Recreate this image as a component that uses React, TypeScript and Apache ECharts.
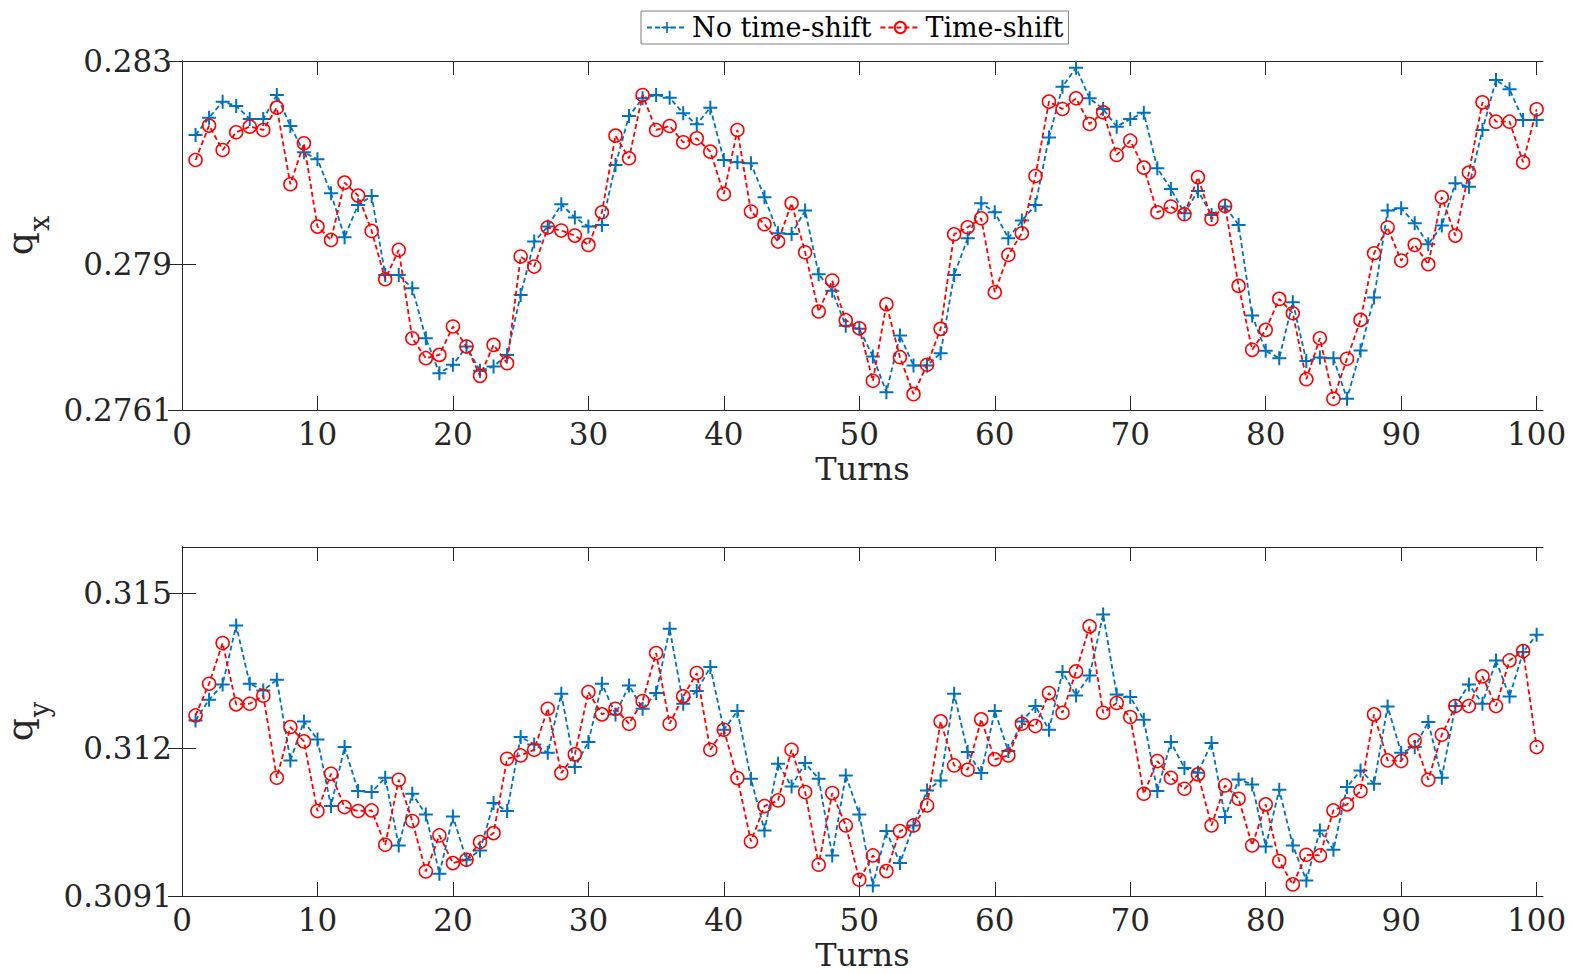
import React, { useEffect, useRef } from "react";
import * as echarts from "echarts";

const turns: number[] = Array.from({ length: 100 }, (_, i) => i + 1);

const qxNoShift: number[] = [
  0.281544, 0.281885, 0.2822, 0.282115, 0.281859, 0.281859, 0.282331, 0.281721, 0.281203, 0.281065,
  0.280396, 0.279531, 0.280167, 0.280344, 0.278789, 0.278789, 0.278527, 0.277543, 0.276855, 0.277019,
  0.277379, 0.276901, 0.276986, 0.277215, 0.278396, 0.279445, 0.27974, 0.28018, 0.279917, 0.27974,
  0.279773, 0.280954, 0.281918, 0.282265, 0.282331, 0.282279, 0.28197, 0.281754, 0.282082, 0.281052,
  0.281006, 0.280987, 0.280318, 0.279609, 0.279596, 0.280055, 0.278803, 0.278475, 0.277786, 0.277727,
  0.277183, 0.276481, 0.277596, 0.277006, 0.277006, 0.277248, 0.278789, 0.279511, 0.2802, 0.280022,
  0.279511, 0.279858, 0.280167, 0.281492, 0.282495, 0.282869, 0.282265, 0.282056, 0.281708, 0.281859,
  0.281983, 0.280888, 0.280482, 0.280003, 0.280442, 0.27997, 0.280134, 0.279773, 0.277989, 0.277294,
  0.27715, 0.278252, 0.277097, 0.277163, 0.27715, 0.27635, 0.277301, 0.278343, 0.280055, 0.280101,
  0.279806, 0.279393, 0.27976, 0.280593, 0.280527, 0.281642, 0.282626, 0.282443, 0.281839, 0.281839,
];

const qxShift: number[] = [
  0.281052, 0.281728, 0.281249, 0.281597, 0.281708, 0.281642, 0.282082, 0.280573, 0.28138, 0.27974,
  0.279478, 0.280606, 0.28035, 0.279655, 0.278704, 0.279281, 0.277543, 0.27715, 0.277215, 0.277773,
  0.277379, 0.276802, 0.277412, 0.277051, 0.27915, 0.278953, 0.279721, 0.279662, 0.279563, 0.27938,
  0.280022, 0.281531, 0.281085, 0.282331, 0.281642, 0.281721, 0.2814, 0.281478, 0.281216, 0.280383,
  0.281642, 0.280036, 0.279786, 0.279445, 0.2802, 0.279235, 0.278068, 0.278678, 0.277898, 0.27774,
  0.276704, 0.278212, 0.27717, 0.276442, 0.277019, 0.277727, 0.27959, 0.279727, 0.279904, 0.278448,
  0.279183, 0.279609, 0.280737, 0.2822, 0.282056, 0.282265, 0.28176, 0.28199, 0.281151, 0.281432,
  0.280901, 0.280022, 0.280134, 0.279983, 0.280711, 0.279891, 0.280147, 0.278573, 0.277314, 0.277707,
  0.278317, 0.278035, 0.276737, 0.277543, 0.27635, 0.277137, 0.277904, 0.279216, 0.279721, 0.279071,
  0.27938, 0.278999, 0.280318, 0.279563, 0.280803, 0.282187, 0.281806, 0.281806, 0.281006, 0.282049,
];

const qyNoShift: number[] = [
  0.312536, 0.312937, 0.313235, 0.314379, 0.313248, 0.313118, 0.313325, 0.31176, 0.312517, 0.312168,
  0.310874, 0.312019, 0.311165, 0.311146, 0.311424, 0.310111, 0.311114, 0.310713, 0.309562, 0.310674,
  0.309833, 0.310014, 0.310932, 0.310777, 0.312213, 0.312071, 0.311909, 0.313054, 0.311631, 0.312116,
  0.313248, 0.312653, 0.313215, 0.312763, 0.313066, 0.314315, 0.31286, 0.313105, 0.313571, 0.312355,
  0.312717, 0.311405, 0.310402, 0.311696, 0.311256, 0.311708, 0.311405, 0.309917, 0.311469, 0.310713,
  0.309335, 0.310389, 0.309768, 0.310499, 0.311178, 0.311372, 0.313054, 0.311922, 0.311514, 0.312717,
  0.311941, 0.312517, 0.312814, 0.312355, 0.313474, 0.313021, 0.313409, 0.314593, 0.313041, 0.312989,
  0.312549, 0.311165, 0.312116, 0.311611, 0.311521, 0.312096, 0.310661, 0.311392, 0.311295, 0.310092,
  0.311191, 0.310111, 0.309432, 0.310402, 0.310027, 0.311243, 0.311566, 0.311308, 0.312808, 0.311909,
  0.312019, 0.312504, 0.311424, 0.312814, 0.313235, 0.31286, 0.3137, 0.313002, 0.313862, 0.314198,
];

const qyShift: number[] = [
  0.312633, 0.313248, 0.314036, 0.312847, 0.31286, 0.313015, 0.311424, 0.312407, 0.312129, 0.310777,
  0.311502, 0.310855, 0.310777, 0.31079, 0.310124, 0.311385, 0.310583, 0.309607, 0.310305, 0.309768,
  0.309833, 0.310176, 0.31035, 0.311793, 0.311857, 0.311967, 0.312763, 0.311514, 0.311877, 0.313086,
  0.312653, 0.312763, 0.312472, 0.312911, 0.313842, 0.312472, 0.313002, 0.313454, 0.311967, 0.312355,
  0.311417, 0.310189, 0.310874, 0.310984, 0.311967, 0.311146, 0.309736, 0.311126, 0.310499, 0.309445,
  0.309917, 0.309613, 0.310389, 0.310499, 0.310887, 0.312517, 0.311663, 0.311579, 0.312556, 0.31178,
  0.311857, 0.312472, 0.312426, 0.313066, 0.312685, 0.313487, 0.31436, 0.312685, 0.312872, 0.312601,
  0.311114, 0.311747, 0.311424, 0.31121, 0.311489, 0.310499, 0.311275, 0.311017, 0.310111, 0.310907,
  0.309807, 0.309355, 0.30993, 0.309917, 0.31079, 0.310907, 0.311165, 0.312653, 0.31176, 0.311747,
  0.312148, 0.311385, 0.312258, 0.312814, 0.312814, 0.31339, 0.312814, 0.3137, 0.313881, 0.312019,
];

const xTicks: number[] = [0, 10, 20, 30, 40, 50, 60, 70, 80, 90, 100];
const qxTicks: number[] = [0.27613, 0.279, 0.283];
const qyTicks: number[] = [0.30913, 0.312, 0.315];
const qxRange: number[] = [0.27613, 0.283];
const qyRange: number[] = [0.30913, 0.3159];
const xRange: number[] = [0, 100.47];

const seriesNames = ["No time-shift", "Time-shift"];

const BLUE = "#0072BD";
const RED = "#FF0000";
const AX = "#262626";
const FONT = "DejaVu Serif";
const PLUS = "path://M6,0H8V6H14V8H8V14H6V8H0V6H6Z";

export default function App() {
  const ref = useRef<HTMLDivElement>(null);

  useEffect(() => {
    if (!ref.current) return;
    const chart = echarts.init(ref.current, null, { renderer: "svg" });

    const fmtY = (v: number) => String(parseFloat(Number(v).toFixed(4)));

    const mkX = (gridIndex: number) => [
      {
        type: "value",
        gridIndex,
        min: xRange[0],
        max: xRange[1],
        position: "bottom",
        name: "Turns",
        nameLocation: "middle",
        nameGap: 43,
        nameTextStyle: { fontFamily: FONT, fontSize: 32, color: AX },
        axisLine: { show: true, onZero: false, lineStyle: { color: AX, width: 1 } },
        axisTick: { show: true, inside: true, length: 14, customValues: xTicks, lineStyle: { color: AX } },
        axisLabel: {
          show: true,
          customValues: xTicks,
          margin: 8,
          fontFamily: FONT,
          fontSize: 31,
          color: AX,
        },
        splitLine: { show: false },
      },
      {
        type: "value",
        gridIndex,
        min: xRange[0],
        max: xRange[1],
        position: "top",
        axisLine: { show: true, onZero: false, lineStyle: { color: AX, width: 1 } },
        axisTick: { show: true, inside: true, length: 14, customValues: xTicks, lineStyle: { color: AX } },
        axisLabel: { show: false },
        splitLine: { show: false },
      },
    ];

    const mkY = (gridIndex: number, range: number[], ticks: number[], sub: string) => [
      {
        type: "value",
        gridIndex,
        min: range[0],
        max: range[1],
        position: "left",
        name: `{q|q}{s|${sub}}`,
        nameLocation: "middle",
        nameGap: 125,
        nameRotate: 90,
        nameTextStyle: {
          rich: {
            q: { fontFamily: FONT, fontSize: 36, color: AX, verticalAlign: "top", lineHeight: 36 },
            s: {
              fontFamily: FONT,
              fontSize: 27,
              color: AX,
              verticalAlign: "top",
              lineHeight: 27,
              padding: [24, 0, 0, 1],
            },
          },
        },
        axisLine: { show: true, lineStyle: { color: AX, width: 1 } },
        axisTick: { show: true, inside: true, length: 14, customValues: ticks, lineStyle: { color: AX } },
        axisLabel: {
          show: true,
          customValues: ticks,
          margin: 10,
          fontFamily: FONT,
          fontSize: 31,
          color: AX,
          formatter: fmtY,
        },
        splitLine: { show: false },
      },
      {
        type: "value",
        gridIndex,
        min: range[0],
        max: range[1],
        position: "right",
        axisLine: { show: true, lineStyle: { color: AX, width: 1 } },
        axisTick: { show: true, inside: true, length: 14, customValues: ticks, lineStyle: { color: AX } },
        axisLabel: { show: false },
        splitLine: { show: false },
      },
    ];

    const blueSeries = (xi: number, yi: number, vals: number[]) => ({
      name: seriesNames[0],
      type: "line",
      xAxisIndex: xi,
      yAxisIndex: yi,
      data: turns.map((t, i) => [t, vals[i]]),
      symbol: PLUS,
      symbolSize: 14,
      itemStyle: { color: BLUE },
      lineStyle: { color: BLUE, width: 1.8, type: [5, 3] },
      z: 3,
    });

    const redSeries = (xi: number, yi: number, vals: number[]) => ({
      name: seriesNames[1],
      type: "line",
      xAxisIndex: xi,
      yAxisIndex: yi,
      data: turns.map((t, i) => [t, vals[i]]),
      symbol: "circle",
      symbolSize: 13,
      itemStyle: { color: "rgba(0,0,0,0)", borderColor: RED, borderWidth: 1.5 },
      lineStyle: { color: RED, width: 1.8, type: [5, 3] },
      z: 4,
    });

    chart.setOption({
      animation: false,
      backgroundColor: "#ffffff",
      legend: {
        data: seriesNames,
        left: 641,
        top: 11,
        padding: [3, 5, 3, 5],
        itemGap: 8,
        itemWidth: 40,
        itemHeight: 14,
        borderColor: "#808080",
        borderWidth: 1,
        textStyle: { fontFamily: FONT, fontSize: 27, color: "#000" },
      },
      grid: [
        { left: 182, top: 61, right: 30, height: 349, containLabel: false, outerBoundsMode: "none" },
        { left: 182, top: 547, right: 30, height: 349, containLabel: false, outerBoundsMode: "none" },
      ],
      xAxis: [...mkX(0), ...mkX(1)],
      yAxis: [...mkY(0, qxRange, qxTicks, "x"), ...mkY(1, qyRange, qyTicks, "y")],
      series: [
        blueSeries(0, 0, qxNoShift),
        redSeries(0, 0, qxShift),
        blueSeries(2, 2, qyNoShift),
        redSeries(2, 2, qyShift),
      ],
    });

    return () => chart.dispose();
  }, []);

  return (
    <div
      ref={ref}
      style={{ position: "fixed", left: 0, top: 0, width: 1573, height: 974, background: "#fff" }}
    />
  );
}
